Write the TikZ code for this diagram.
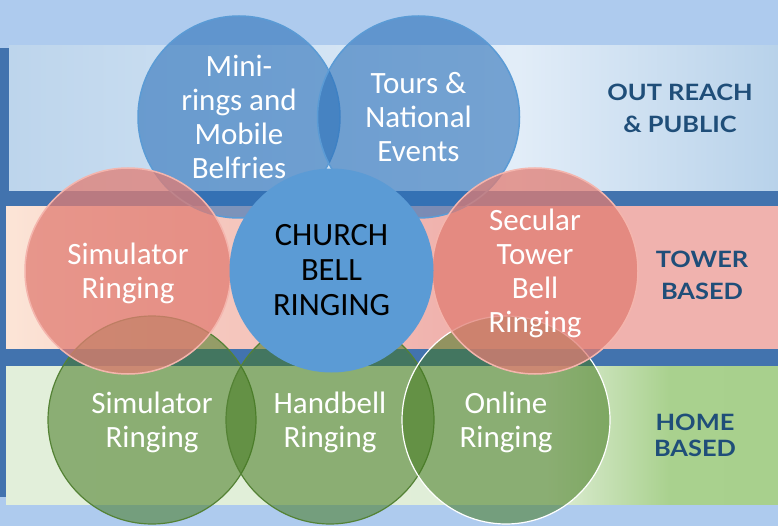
\documentclass[tikz,border=0pt]{standalone}
\usepackage{fontspec}
\setmainfont{Carlito}
\newfontfamily\bandfont{Lato}[FakeStretch=1.13]

% band colour ramps (the path box spans 25bp..75bp)
\pgfdeclarehorizontalshading{topband}{100bp}{%
  color(0bp)=(rgb,255:red,189;green,213;blue,236);
  color(25bp)=(rgb,255:red,189;green,213;blue,236);
  color(40bp)=(rgb,255:red,205;green,224;blue,242);
  color(58bp)=(rgb,255:red,226;green,237;blue,248);
  color(75bp)=(rgb,255:red,184;green,210;blue,234);
  color(100bp)=(rgb,255:red,184;green,210;blue,234)}
\pgfdeclarehorizontalshading{midband}{100bp}{%
  color(0bp)=(rgb,255:red,252;green,229;blue,215);
  color(25bp)=(rgb,255:red,252;green,229;blue,215);
  color(37bp)=(rgb,255:red,246;green,202;blue,192);
  color(53bp)=(rgb,255:red,240;green,179;blue,174);
  color(75bp)=(rgb,255:red,240;green,178;blue,174);
  color(100bp)=(rgb,255:red,240;green,178;blue,174)}
\pgfdeclarehorizontalshading{lowband}{100bp}{%
  color(0bp)=(rgb,255:red,226;green,239;blue,218);
  color(25bp)=(rgb,255:red,226;green,239;blue,218);
  color(60bp)=(rgb,255:red,224;green,238;blue,215);
  color(68bp)=(rgb,255:red,169;green,209;blue,142);
  color(75bp)=(rgb,255:red,168;green,208;blue,141);
  color(100bp)=(rgb,255:red,168;green,208;blue,141)}

\definecolor{bg}{HTML}{AECBEE}
\definecolor{sepblue}{HTML}{4273AE}
\definecolor{circblue}{RGB}{44,113,185}
\definecolor{blueedge}{HTML}{5B9BD5}
\definecolor{churchblue}{HTML}{5B9BD5}
\definecolor{pinkfill}{RGB}{225,125,115}
\definecolor{pinkedge}{HTML}{F4B5AD}
\definecolor{greenfill}{RGB}{69,122,33}
\definecolor{greenedge}{HTML}{548235}
\definecolor{labelblue}{HTML}{1F4E79}

\begin{document}
\begin{tikzpicture}[x=1pt,y=-1pt,
  ball/.style={circle, inner sep=0pt},
  blueball/.style={ball, minimum size=202pt, fill=circblue, fill opacity=0.6,
    draw=blueedge, line width=1.5pt},
  greenball/.style={ball, minimum size=208pt, fill=greenfill, fill opacity=0.55,
    draw=greenedge, line width=1.2pt},
  pinkball/.style={ball, minimum size=206pt, fill=pinkfill, fill opacity=0.75,
    draw=pinkedge, line width=1.5pt},
  churchball/.style={ball, minimum size=204pt, fill=churchblue},
  ctext/.style={align=center, inner sep=0pt, text=white,
    font=\fontsize{31}{34}\selectfont},
  bandlabel/.style={align=center, inner sep=0pt, text=labelblue,
    font=\bandfont\bfseries\fontsize{22.5}{32}\selectfont}]

\useasboundingbox (0,0) rectangle (778,526);
\fill[bg] (0,0) rectangle (778,526);

% dark frame behind the three bands
\fill[sepblue] (0,48) rectangle (778,497);
\shade[shading=topband] (9,46) rectangle (778,191);
\shade[shading=midband] (6,207) rectangle (778,348);
\shade[shading=lowband] (6,366) rectangle (778,504);

% outreach circles
\node[blueball] (mini) at (239,117) {};
\node[ctext] (minitext) at (mini) {Mini-\\rings and\\Mobile\\Belfries};
\node[blueball] (tours) at (418.5,117) {};
\node[ctext] (tourstext) at (tours) {Tours \&\\National\\Events};

% home circles
\node[greenball] (simhome) at (152,420) {};
\node[ctext, yshift=-2.5pt] (simhometext) at (simhome) {Simulator\\Ringing};
\node[greenball] (handbell) at (330,420) {};
\node[ctext, yshift=-2.5pt] (handbelltext) at (handbell) {Handbell\\Ringing};
\node[greenball, draw=white] (online) at (506,420) {};
\node[ctext, yshift=-2.5pt] (onlinetext) at (online) {Online\\Ringing};

% tower circles
\node[pinkball] (simtower) at (128,271) {};
\node[ctext, yshift=-2.5pt] (simtowertext) at (simtower) {Simulator\\Ringing};
\node[pinkball] (secular) at (535,271) {};
\node[ctext, yshift=-2pt] (seculartext) at (secular) {Secular\\Tower\\Bell\\Ringing};

% centre
\node[churchball] (church) at (331.5,270.5) {};
\node[ctext, text=black, font=\fontsize{32.5}{35}\selectfont] (churchtext) at (church) {CHURCH\\BELL\\RINGING};

% band labels
\node[bandlabel] (outreach) at (680,108) {OUT REACH\\\& PUBLIC};
\node[bandlabel] (tower) at (702,275) {TOWER\\BASED};
\node[bandlabel, font=\bandfont\bfseries\fontsize{22.5}{26}\selectfont] (home) at (695,435) {HOME\\BASED};
\end{tikzpicture}
\end{document}
